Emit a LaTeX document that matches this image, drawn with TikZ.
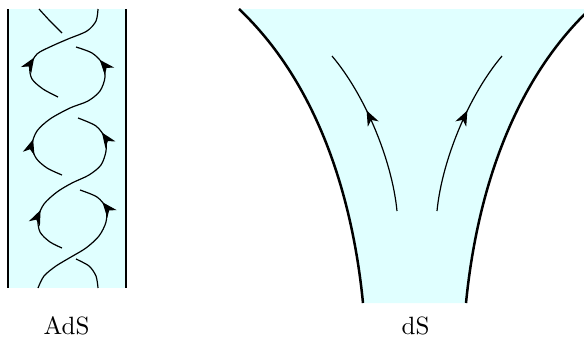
\documentclass[tikz,border=0pt]{standalone}
\usepackage{tikz}
\usetikzlibrary{arrows.meta,decorations.markings}
\definecolor{bulk}{HTML}{E0FFFF}

\begin{document}
\begin{tikzpicture}[x=1pt, y=-1pt,
        strand/.style={line width=1.2pt},
        wall/.style={line width=2.5pt},
        upmark/.style={postaction={decorate, decoration={markings,
            mark=at position #1 with {\arrow{Stealth[length=15pt, width=12pt, inset=4.5pt]}}}}},
        captext/.style={anchor=base, scale=2.5}]
        \useasboundingbox (0,0) rectangle (584,341);
        \clip (0,0) rectangle (584,341);

        % AdS strip
        \fill[bulk] (8,9) rectangle (126,288);
        \draw[wall] (8,9) -- (8,288);
        \draw[wall] (126,9) -- (126,288);

        % twisted strands, drawn upwards
        \draw[strand] plot[smooth] coordinates {(39,9) (50,21) (62,33)};
        \draw[strand, upmark=0.39] plot[smooth] coordinates {(58,97) (43,89) (32,79) (30,67) (37,54) (52,46) (68,39) (87,31) (96,21) (98,9)};
        \draw[strand, upmark=0.26, upmark=0.86] plot[smooth] coordinates {(62,175) (47,168) (36,158) (32,145) (37,131) (50,119) (70,108) (88,101) (100,91) (105,77) (102,63) (92,53) (76,47)};
        \draw[strand, upmark=0.265, upmark=0.85] plot[smooth] coordinates {(62,248) (50,242) (40,232) (38,218) (44,204) (57,192) (72,183) (89,175) (101,165) (106,151) (105,138) (96,126) (78,118)};
        \draw[strand, upmark=0.82] plot[smooth] coordinates {(38,288) (44,276) (56,266) (71,257) (86,248) (99,236) (106,222) (106,208) (97,197) (80,190)};
        \draw[strand] plot[smooth] coordinates {(76,259) (89,266) (96,276) (98,288)};

        % dS horn
        \fill[bulk] (363,303) .. controls (352,191) and (315,81) .. (239,9) -- (590,9)
            .. controls (514,81) and (477,191) .. (466,303) -- cycle;
        \draw[wall] (363,303) .. controls (352,191) and (315,81) .. (239,9);
        \draw[wall] (466,303) .. controls (477,191) and (514,81) .. (590,9);

        \draw[strand, upmark=0.62] (397,211) .. controls (392,160) and (365,95) .. (332,56);
        \draw[strand, upmark=0.62] (437,211) .. controls (442,160) and (469,95) .. (502,56);

        \node[captext] (ads) at (66.5,334) {AdS};
        \node[captext] (ds) at (415.5,334) {dS};
\end{tikzpicture}
\end{document}
